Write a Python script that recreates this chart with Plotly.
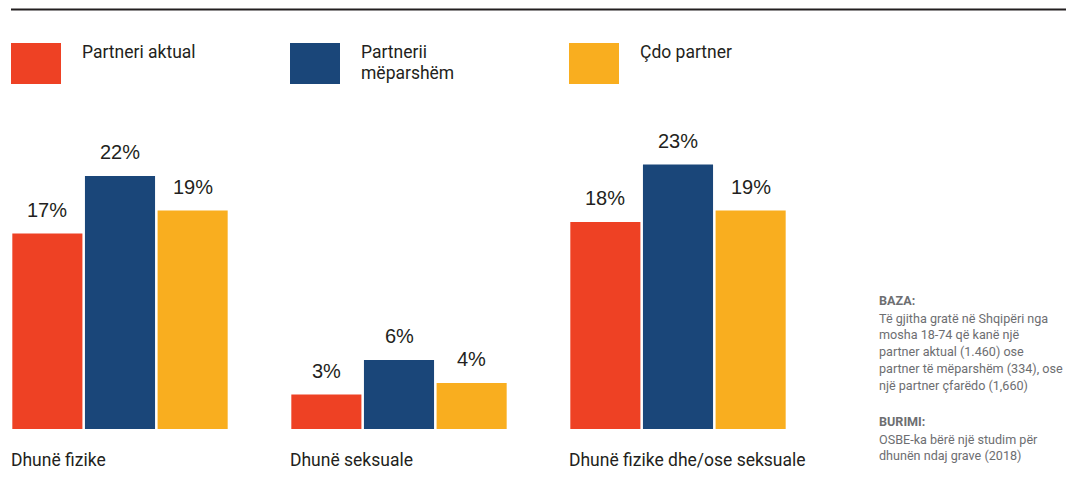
import plotly.graph_objects as go

# ---------------- data ----------------
categories = ["Dhunë fizike", "Dhunë seksuale", "Dhunë fizike dhe/ose seksuale"]
series_names = ["Partneri aktual", "Partnerii mëparshëm", "Çdo partner"]
legend_lines = [["Partneri aktual"], ["Partnerii", "mëparshëm"], ["Çdo partner"]]
partneri_aktual = [17, 3, 18]
partnerii_meparshem = [22, 6, 23]
cdo_partner = [19, 4, 19]
series_values = [partneri_aktual, partnerii_meparshem, cdo_partner]
colors = ["#EE4124", "#1A4679", "#F9AE1F"]

baza_title = "BAZA:"
baza_lines = [
    "Të gjitha gratë në Shqipëri nga",
    "mosha 18-74 që kanë një",
    "partner aktual (1.460) ose",
    "partner të mëparshëm (334), ose",
    "një partner çfarëdo (1,660)",
]
burimi_title = "BURIMI:"
burimi_lines = [
    "OSBE-ka bërë një studim për",
    "dhunën ndaj grave (2018)",
]

# ---------------- layout constants ----------------
W, H = 1069, 490
BASE_PX = 429          # pixel row of the bar baseline
PX_PER_UNIT = 11.5     # pixels per percent
GROUP_STEP = 279       # pixels between group centres
FIRST_CENTER = 120     # pixel column of first group centre
BARGAP = 0.219
BARGROUPGAP = 0.035

NARROW = "Roboto, Liberation Sans, sans-serif"
REGULAR = "Liberation Sans, Arial, Helvetica, sans-serif"
DARK = "#231F20"
GREY = "#6D6E71"


def py(p):
    return 1 - p / H


def px(p):
    return p / W


fig = go.Figure()
for name, vals, col in zip(series_names, series_values, colors):
    fig.add_trace(go.Bar(
        x=categories, y=vals, name=name,
        marker=dict(color=col, line=dict(width=0)),
        hoverinfo="skip", showlegend=False,
    ))

annotations = []
slot = (1 - BARGAP) / len(series_values)
for i, vals in enumerate(series_values):
    off = (i - (len(series_values) - 1) / 2) * slot
    for j, v in enumerate(vals):
        annotations.append(dict(
            x=j + off, y=v, xref="x", yref="y", text=f"{v}%",
            showarrow=False, xanchor="center", yanchor="middle", yshift=24,
            font=dict(family=REGULAR, size=20, color=DARK),
        ))

# category labels (left aligned with each group)
for j, c in enumerate(categories):
    annotations.append(dict(
        x=j - (1 - BARGAP) / 2, y=py(459.5), xref="x", yref="paper", text=c,
        showarrow=False, xanchor="left", yanchor="middle", xshift=-2,
        font=dict(family=NARROW, size=17.5, color=DARK),
    ))

shapes = []
# top rule
shapes.append(dict(type="line", xref="paper", yref="paper",
                   x0=px(11), x1=px(1066), y0=py(9.5), y1=py(9.5),
                   line=dict(color=DARK, width=2.2)))

# legend squares + labels, aligned with group starts
legend_left = [11, 290, 569]
for k, (lines, col) in enumerate(zip(legend_lines, colors)):
    x0 = legend_left[k]
    shapes.append(dict(type="rect", xref="paper", yref="paper",
                       x0=px(x0), x1=px(x0 + 50), y0=py(84), y1=py(43),
                       fillcolor=col, line=dict(width=0)))
    for li, t in enumerate(lines):
        annotations.append(dict(
            x=px(x0 + 69), y=py(51.5 + 21 * li), xref="paper", yref="paper", text=t,
            showarrow=False, xanchor="left", yanchor="middle",
            font=dict(family=NARROW, size=17.5, color=DARK),
        ))

# right-hand notes
NOTE_FONT = dict(family=NARROW, size=12.6, color=GREY)
annotations.append(dict(x=px(877), y=py(300), xref="paper", yref="paper",
                        text=f"<b>{baza_title}</b>", showarrow=False,
                        xanchor="left", yanchor="middle", font=NOTE_FONT))
for li, t in enumerate(baza_lines):
    annotations.append(dict(x=px(877), y=py(318 + 16.9 * li), xref="paper", yref="paper",
                            text=t, showarrow=False, xanchor="left", yanchor="middle",
                            font=NOTE_FONT))
annotations.append(dict(x=px(877), y=py(421), xref="paper", yref="paper",
                        text=f"<b>{burimi_title}</b>", showarrow=False,
                        xanchor="left", yanchor="middle", font=NOTE_FONT))
for li, t in enumerate(burimi_lines):
    annotations.append(dict(x=px(877), y=py(439 + 16.9 * li), xref="paper", yref="paper",
                            text=t, showarrow=False, xanchor="left", yanchor="middle",
                            font=NOTE_FONT))

fig.update_layout(
    width=W, height=H,
    margin=dict(l=0, r=0, t=0, b=0),
    paper_bgcolor="white", plot_bgcolor="white",
    barmode="group", bargap=BARGAP, bargroupgap=BARGROUPGAP,
    xaxis=dict(type="category", range=[-FIRST_CENTER / GROUP_STEP, (W - FIRST_CENTER) / GROUP_STEP],
               showgrid=False, zeroline=False, showticklabels=False, showline=False,
               fixedrange=True),
    yaxis=dict(range=[-(H - BASE_PX) / PX_PER_UNIT, BASE_PX / PX_PER_UNIT],
               showgrid=False, zeroline=False, showticklabels=False, showline=False,
               fixedrange=True),
    annotations=annotations, shapes=shapes,
)

fig.write_html(
    "out.html",
    config={"displayModeBar": False},
    post_script="document.body.style.margin='0';document.body.style.overflow='hidden';",
)
